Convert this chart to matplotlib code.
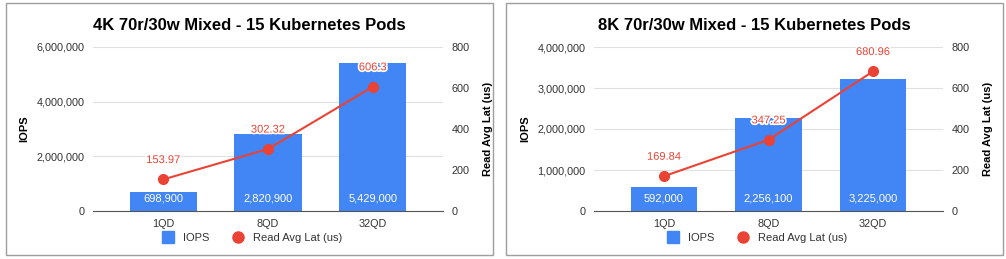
import matplotlib
matplotlib.use('Agg')
from matplotlib import pyplot as plt
from matplotlib.patches import Rectangle
from matplotlib.lines import Line2D
import matplotlib.patheffects as pe
from matplotlib.ticker import FuncFormatter

plt.rcParams['font.family'] = ['Liberation Sans', 'DejaVu Sans']

categories = ['1QD', '8QD', '32QD']
titles = ['4K 70r/30w Mixed - 15 Kubernetes Pods', '8K 70r/30w Mixed - 15 Kubernetes Pods']
iops_4k = [698900, 2820900, 5429000]
lat_4k = [153.97, 302.32, 606.3]
iops_8k = [592000, 2256100, 3225000]
lat_8k = [169.84, 347.25, 680.96]
iops_max = [6000000, 4000000]
iops_step = [2000000, 1000000]

BLUE = '#4285f4'
RED = '#ea4335'
W, H = 1006, 259

fig = plt.figure(figsize=(W / 100, H / 100), dpi=100)

panels = [(6, 493, 93, 443), (506, 1003, 594, 943)]
datasets = [(iops_4k, lat_4k), (iops_8k, lat_8k)]

for k, (box, (iops, lat)) in enumerate(zip(panels, datasets)):
    bx0, bx1, ax0, ax1_ = box
    mid = (bx0 + bx1) / 2 / W
    fig.patches.append(Rectangle((bx0 / W, 4 / H), (bx1 - bx0) / W, (256 - 4) / H,
                                 transform=fig.transFigure, fill=False,
                                 edgecolor='#9e9e9e', linewidth=1))
    ax = fig.add_axes([ax0 / W, (H - 211) / H, (ax1_ - ax0) / W, 164 / H])
    x = range(len(categories))
    bars = ax.bar(x, iops, width=0.64, color=BLUE, zorder=2)
    ax.set_ylim(0, iops_max[k])
    ax.set_yticks(range(0, iops_max[k] + 1, iops_step[k]))
    ax.yaxis.set_major_formatter(FuncFormatter(lambda v, p: f'{int(v):,}'))
    ax.set_xlim(-0.67, 2.67)
    ax.set_xticks(list(x))
    ax.set_xticklabels(categories)
    ax.grid(axis='y', color='#e0e0e0', linewidth=0.8, zorder=0)
    ax.set_axisbelow(True)
    for s in ['top', 'right', 'left']:
        ax.spines[s].set_visible(False)
    ax.spines['bottom'].set_color('#555555')
    ax.tick_params(length=0, labelsize=7.8, colors='#333333', pad=6)
    ax.set_ylabel('IOPS', fontsize=8, fontweight='bold', labelpad=5)
    for b, v in zip(bars, iops):
        ax.annotate(f'{v:,}', (b.get_x() + b.get_width() / 2, 0), xytext=(0, 9),
                    textcoords='offset points', ha='center', va='center',
                    color='white', fontsize=8, zorder=5)
    fig.text(mid, 1 - 25 / H, titles[k], fontsize=12, fontweight='bold',
             ha='center', va='center')

    ax2 = ax.twinx()
    ax2.plot(list(x), lat, color=RED, marker='o', markersize=7, linewidth=1.5, zorder=3)
    ax2.set_ylim(0, 800)
    ax2.set_yticks([0, 200, 400, 600, 800])
    for s in ['top', 'right', 'left', 'bottom']:
        ax2.spines[s].set_visible(False)
    ax2.tick_params(length=0, labelsize=7.8, colors='#333333', pad=6)
    ax2.set_ylabel('Read Avg Lat (us)', fontsize=8, fontweight='bold', labelpad=10)
    for xi, v in zip(x, lat):
        ax2.annotate(f'{v:g}', (xi, v), xytext=(0, 14), textcoords='offset points',
                     ha='center', va='center', color=RED, fontsize=8,
                     path_effects=[pe.withStroke(linewidth=2.5, foreground='white')])

    handles = [Line2D([], [], marker='s', color=BLUE, linestyle='none', markersize=8),
               Line2D([], [], marker='o', color=RED, linestyle='none', markersize=8)]
    fig.legend(handles, ['IOPS', 'Read Avg Lat (us)'], loc='center',
               bbox_to_anchor=(mid, 1 - 238 / H), ncol=2, frameon=False, fontsize=8,
               handletextpad=0.4, columnspacing=1.5, labelcolor='#333333')

fig.savefig('out.png', dpi=100)
